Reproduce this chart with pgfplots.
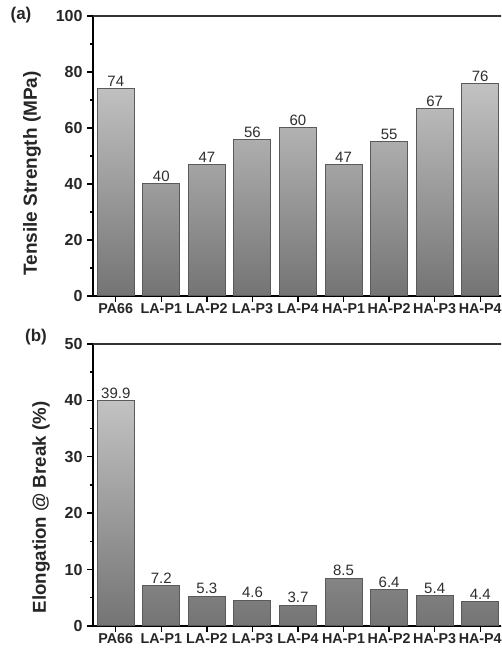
\documentclass[border=0pt]{standalone}
\usepackage{fontspec}
\setmainfont{Liberation Sans}
\usepackage{pgfplots}
\pgfplotsset{compat=1.18}
\definecolor{bartop}{HTML}{C2C2C2}
\definecolor{barbot}{HTML}{747474}
\definecolor{barline}{HTML}{5A5A5A}
\definecolor{valtxt}{HTML}{2E2E2E}
\pgfplotsset{
  mybars/.style={
    scale only axis, width=410pt,
    xmin=-0.5, xmax=8.5,
    xtick={0,...,8},
    xticklabels={PA66,LA-P1,LA-P2,LA-P3,LA-P4,HA-P1,HA-P2,HA-P3,HA-P4},
    xtick pos=bottom, ytick pos=left,
    tick align=outside,
    major tick length=6pt, minor tick length=3.5pt,
    every tick/.style={black, line width=1.4pt},
    axis lines*=left,
    axis line style={black, line width=2pt},
    ymin=0,
    minor y tick num=1,
    /pgf/number format/assume math mode=true,
    yticklabel style={font=\fontsize{16}{18}\selectfont\bfseries, xshift=-1pt, text=black!85},
    xticklabel style={font=\fontsize{14.3}{16}\selectfont\bfseries, yshift=2pt, text=black!85},
    nodes near coords={\pgfplotspointmeta},
    point meta=explicit symbolic,
    every node near coord/.style={font=\fontsize{15}{17}\selectfont, text=valtxt, inner sep=1.5pt},
  },
  barsty/.style={ybar, bar width=37pt, draw=barline, line width=1pt, top color=bartop, bottom color=barbot},
}
\begin{document}
\begin{tikzpicture}[x=1pt,y=1pt]
\clip (0,0) rectangle (501,650);
\begin{axis}[mybars, at={(93pt,354pt)}, anchor=south west, height=280pt,
  ymax=100, ytick={0,20,40,60,80,100},
  ylabel={Tensile Strength (MPa)},
  every axis y label/.style={at={([xshift=-56pt, yshift=-17.5pt]rel axis cs:0,0.5)}, anchor=base, rotate=90, font=\fontsize{19}{22}\selectfont\bfseries, text=black!85},
  clip=false]
\addplot[barsty] coordinates {(0,74)[74] (1,40)[40] (2,47)[47] (3,56)[56] (4,60)[60] (5,47)[47] (6,55)[55] (7,67)[67] (8,76)[76]};
\draw[black!80, line width=2pt] (rel axis cs:0,1) -- (rel axis cs:1.02,1);
\node[font=\fontsize{17}{20}\selectfont\bfseries, text=black!85] at ([xshift=-72pt, yshift=1pt]rel axis cs:0,1) {(a)};
\end{axis}
\begin{axis}[mybars, at={(93pt,24pt)}, anchor=south west, height=282pt,
  ymax=50, ytick={0,10,20,30,40,50},
  ylabel={Elongation @ Break (\%)},
  every axis y label/.style={at={([xshift=-47pt, yshift=-22.5pt]rel axis cs:0,0.5)}, anchor=base, rotate=90, font=\fontsize{18.7}{22}\selectfont\bfseries, text=black!85},
  clip=false]
\addplot[barsty] coordinates {(0,39.9)[39.9] (1,7.2)[7.2] (2,5.3)[5.3] (3,4.6)[4.6] (4,3.7)[3.7] (5,8.5)[8.5] (6,6.4)[6.4] (7,5.4)[5.4] (8,4.4)[4.4]};
\draw[black!80, line width=2pt] (rel axis cs:0,1) -- (rel axis cs:1.02,1);
\node[font=\fontsize{17}{20}\selectfont\bfseries, text=black!85] at ([xshift=-57pt, yshift=7pt]rel axis cs:0,1) {(b)};
\end{axis}
\end{tikzpicture}
\end{document}
